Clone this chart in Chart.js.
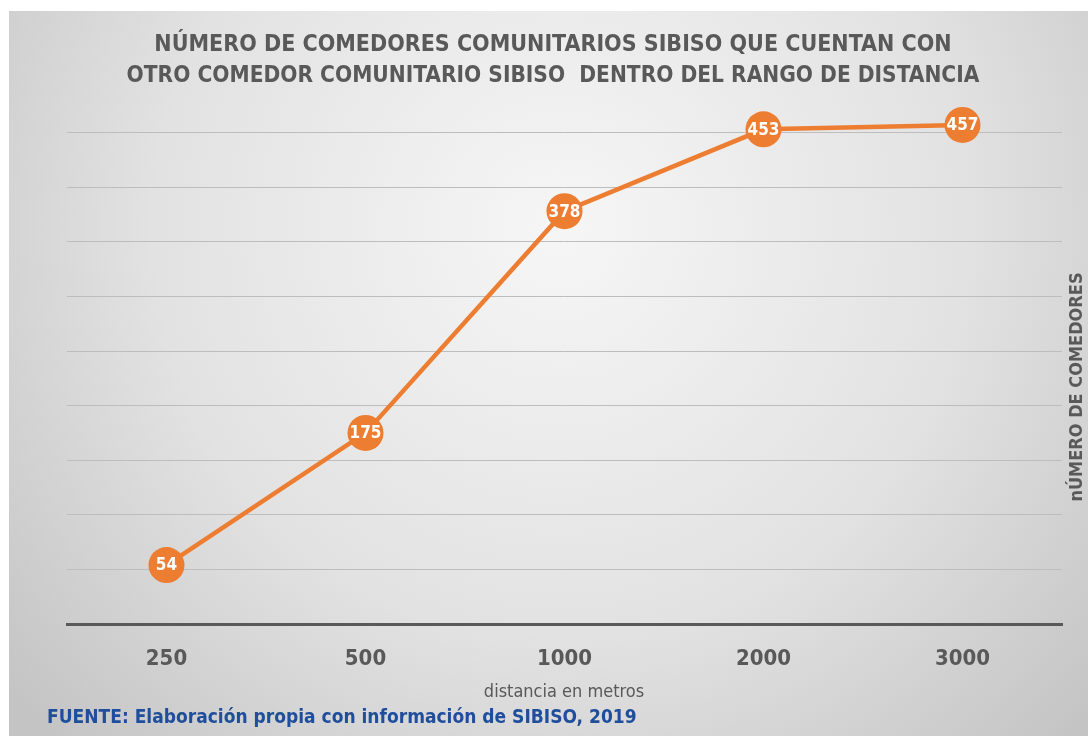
<!DOCTYPE html>
<html lang="es">
<head>
<meta charset="UTF-8">
<title>Comedores SIBISO</title>
<style>
  html, body { margin: 0; padding: 0; background: #fff; }
  #wrap { width: 1088px; height: 736px; position: relative; }
</style>
</head>
<body>
<div id="wrap"><canvas id="chart"></canvas></div>
<script src="https://cdn.jsdelivr.net/npm/chart.js"></script>
<script>
const distancias = ['250', '500', '1000', '2000', '3000'];
const comedores = [54, 175, 378, 453, 457];
const titleLines = [
  'NÚMERO DE COMEDORES COMUNITARIOS SIBISO QUE CUENTAN CON',
  'OTRO COMEDOR COMUNITARIO SIBISO  DENTRO DEL RANGO DE DISTANCIA'
];
const xTitle = 'distancia en metros';
const yTitle = 'nÚMERO DE COMEDORES';
const fuente = 'FUENTE: Elaboración propia con información de SIBISO, 2019';

const FONT = "'DejaVu Sans Condensed', 'Open Sans', sans-serif";
const ORANGE = '#ed7d31';
const GREY_TEXT = '#595959';

// fondo con degradado y textos fuera del area de trazado
const decor = {
  id: 'decor',
  beforeDraw(chart) {
    const c = chart.ctx;
    c.save();
    c.fillStyle = '#ffffff';
    c.fillRect(0, 0, chart.width, chart.height);
    const g = c.createRadialGradient(560, 230, 20, 560, 230, 720);
    g.addColorStop(0, '#f5f5f5');
    g.addColorStop(0.55, '#e2e2e2');
    g.addColorStop(1, '#c4c4c4');
    c.fillStyle = g;
    c.fillRect(9, 11, chart.width - 9, chart.height - 11);
    c.restore();
  },
  afterDraw(chart) {
    const c = chart.ctx;
    c.save();
    c.textAlign = 'center';
    c.textBaseline = 'middle';
    c.fillStyle = GREY_TEXT;
    c.font = 'bold 23px ' + FONT;
    c.fillText(titleLines[0], 553, 45);
    c.font = 'bold 22.5px ' + FONT;
    c.fillText(titleLines[1], 553, 76);

    c.font = '18px ' + FONT;
    c.fillText(xTitle, 564, 692);

    c.save();
    c.translate(1077, 387);
    c.rotate(-Math.PI / 2);
    c.font = 'bold 18px ' + FONT;
    c.fillText(yTitle, 0, 0);
    c.restore();

    c.textAlign = 'left';
    c.fillStyle = '#1f4e9c';
    c.font = 'bold 19px ' + FONT;
    c.fillText(fuente, 47, 718);

    // etiquetas de datos dentro de los marcadores
    const meta = chart.getDatasetMeta(0);
    c.textAlign = 'center';
    c.fillStyle = '#ffffff';
    c.font = 'bold 17px ' + FONT;
    meta.data.forEach((pt, i) => {
      c.fillText(String(comedores[i]), pt.x, pt.y + 1);
    });
    c.restore();
  }
};

new Chart(document.getElementById('chart'), {
  type: 'line',
  data: {
    labels: distancias,
    datasets: [{
      data: comedores,
      borderColor: ORANGE,
      backgroundColor: ORANGE,
      borderWidth: 4.5,
      pointRadius: 18,
      pointHoverRadius: 18,
      pointBorderWidth: 0,
      pointBackgroundColor: ORANGE,
      tension: 0
    }]
  },
  options: {
    responsive: true,
    maintainAspectRatio: false,
    animation: false,
    layout: { padding: { left: 67, top: 78, right: 0, bottom: 0 } },
    plugins: {
      legend: { display: false },
      tooltip: { enabled: false }
    },
    scales: {
      x: {
        offset: true,
        grid: { display: false, drawTicks: false },
        border: { display: true, color: '#595959', width: 3 },
        ticks: {
          color: GREY_TEXT,
          padding: 22,
          font: { family: FONT, size: 22, weight: 'bold' }
        },
        afterFit(scale) { scale.height = 112; }
      },
      y: {
        position: 'right',
        min: 0,
        max: 500,
        ticks: { display: false, stepSize: 50 },
        border: { display: false },
        grid: {
          drawTicks: false,
          lineWidth: 1,
          color: ctx => (ctx.tick.value === 0 || ctx.tick.value === 500) ? 'rgba(0,0,0,0)' : '#bdbdbd'
        },
        afterFit(scale) { scale.width = 26; }
      }
    }
  },
  plugins: [decor]
});
</script>
</body>
</html>
